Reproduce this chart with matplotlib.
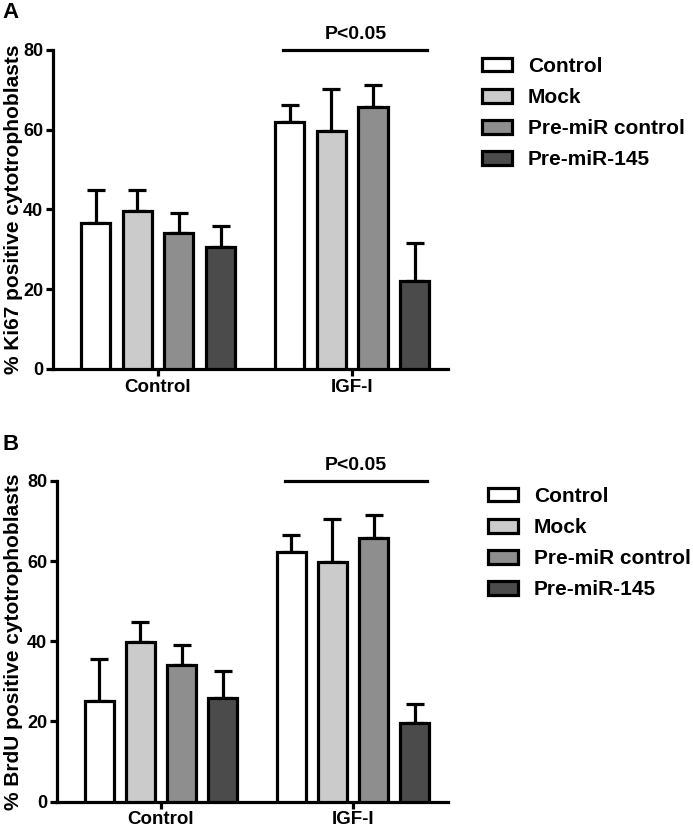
import matplotlib
matplotlib.use("Agg")
import matplotlib.pyplot as plt
from matplotlib.patches import Patch
import numpy as np

plt.rcParams['font.family'] = ['Liberation Sans', 'DejaVu Sans']
plt.rcParams['font.weight'] = 'bold'

groups = ["Control", "IGF-I"]
series = ["Control", "Mock", "Pre-miR control", "Pre-miR-145"]
colors = ["#ffffff", "#cbcbcb", "#8e8e8e", "#4b4b4b"]

ki67_mean = {"Control": [36.6, 62.0], "Mock": [39.7, 59.7],
             "Pre-miR control": [34.2, 65.6], "Pre-miR-145": [30.7, 22.1]}
ki67_err = {"Control": [8.3, 4.2], "Mock": [5.1, 10.5],
            "Pre-miR control": [4.9, 5.6], "Pre-miR-145": [5.2, 9.6]}

brdu_mean = {"Control": [25.2, 62.2], "Mock": [39.8, 59.7],
             "Pre-miR control": [34.1, 65.7], "Pre-miR-145": [25.9, 19.5]}
brdu_err = {"Control": [10.4, 4.2], "Mock": [5.1, 10.8],
            "Pre-miR control": [4.9, 5.7], "Pre-miR-145": [6.8, 4.9]}

yticks = [0, 20, 40, 60, 80]
sig_text = "P<0.05"

LW = 2.3
group_pos = np.array([0.0, 4.66])
offsets = [-1.5, -0.5, 0.5, 1.5]
width = 0.7

fig = plt.figure(figsize=(6.93, 8.31), dpi=100)

def draw(ax, means, errs, ylabel, label_x):
    for i, s in enumerate(series):
        x = group_pos + offsets[i]
        m = np.array(means[s]); e = np.array(errs[s])
        ax.errorbar(x, m, yerr=[np.zeros_like(e), e], fmt='none', ecolor='black',
                    elinewidth=LW, capsize=6.5, capthick=LW, zorder=2)
        ax.bar(x, m, width=width, color=colors[i], edgecolor='black',
               linewidth=LW, zorder=3, label=s)
    ax.set_ylim(0, 80)
    ax.set_xlim(-2.52, 6.96)
    ax.set_yticks(yticks)
    ax.set_xticks(group_pos)
    ax.set_xticklabels(groups, fontsize=13.5, fontweight='bold')
    for t in ax.get_yticklabels():
        t.set_fontsize(13); t.set_fontweight('bold')
    ax.spines['top'].set_visible(False)
    ax.spines['right'].set_visible(False)
    ax.spines['left'].set_linewidth(LW)
    ax.spines['bottom'].set_linewidth(LW)
    ax.tick_params(axis='both', width=LW, length=5, pad=2)
    ax.set_ylabel(ylabel, fontsize=15, fontweight='bold')
    ax.yaxis.set_label_coords(label_x, 0.5)
    # significance line
    x0 = group_pos[1] + offsets[0] - 0.15
    x1 = group_pos[1] + offsets[3] + 0.3
    ax.plot([x0, x1], [80, 80], color='black', lw=LW, clip_on=False, zorder=4)
    ax.annotate(sig_text, xy=((x0 + x1) / 2, 80), xytext=(0, 5),
                textcoords='offset points', ha='center', va='bottom',
                fontsize=14, fontweight='bold', annotation_clip=False)

axA = fig.add_axes([0.0765, 0.556, 0.570, 0.384])
draw(axA, ki67_mean, ki67_err, "% Ki67 positive cytotrophoblasts", -0.076)
axB = fig.add_axes([0.0823, 0.0353, 0.564, 0.386])
draw(axB, brdu_mean, brdu_err, "% BrdU positive cytotrophoblasts", -0.087)

def legend(anchor):
    handles = [Patch(facecolor=c, edgecolor='black', linewidth=LW) for c in colors]
    fig.legend(handles, series, loc='upper left', bbox_to_anchor=anchor,
               frameon=False, handlelength=1.45, handleheight=0.62,
               handletextpad=0.75, labelspacing=0.58, borderpad=0, borderaxespad=0,
               prop={'weight': 'bold', 'size': 15})

legend((482/693, 1 - 57/831))
legend((488/693, 1 - 487/831))

fig.text(2/693, 1 - 13/831, "A", fontsize=16, fontweight='bold', va='center', ha='left')
fig.text(2/693, 1 - 444/831, "B", fontsize=16, fontweight='bold', va='center', ha='left')

fig.savefig("out.png", dpi=100)
